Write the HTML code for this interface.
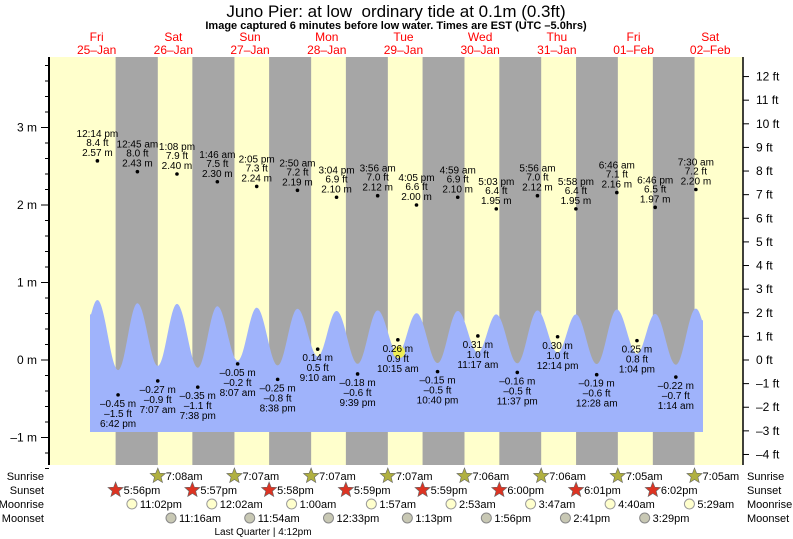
<!DOCTYPE html><html><head><meta charset="utf-8"><style>
body{margin:0;background:#fff}svg{display:block;font-family:"Liberation Sans",sans-serif}
</style></head><body>
<svg id="s" width="793" height="539" xmlns="http://www.w3.org/2000/svg"></svg>
<script>
const S=document.getElementById('s');let h='';
const X0=135,DW=76.7,L=49,R=743,T=57,B=465;
const X=d=>X0+DW*d;const Ym=m=>360-77.5*m;
const tm=(s)=>{let[a,p]=s.split(/(am|pm)/);let[hh,mm]=a.split(':').map(Number);if(hh==12)hh=0;if(p=='pm')hh+=12;return (hh+mm/60)/24;};
h+=`<rect x="${L}" y="${T}" width="${R-L}" height="${B-T}" fill="#ffffcc"/>`;
const ss=['5:56pm','5:57pm','5:58pm','5:59pm','5:59pm','6:00pm','6:01pm','6:02pm'];
const sr=['7:08am','7:07am','7:07am','7:07am','7:06am','7:06am','7:05am','7:05am'];
for(let k=0;k<8;k++){let a=X(k-1+tm(ss[k])),b=X(k+tm(sr[k]));h+=`<rect x="${a}" y="${T}" width="${b-a}" height="${B-T}" fill="#a6a6a6"/>`;}
const E=[['12:14pm',2.57,-1,'8.4'],['6:42pm',-0.45,-1,'-1.5'],['12:45am',2.43,0,'8.0'],['7:07am',-0.27,0,'-0.9'],['1:08pm',2.40,0,'7.9'],['7:38pm',-0.35,0,'-1.1'],['1:46am',2.30,1,'7.5'],['8:07am',-0.05,1,'-0.2'],['2:05pm',2.24,1,'7.3'],['8:38pm',-0.25,1,'-0.8'],['2:50am',2.19,2,'7.2'],['9:10am',0.14,2,'0.5'],['3:04pm',2.10,2,'6.9'],['9:39pm',-0.18,2,'-0.6'],['3:56am',2.12,3,'7.0'],['10:15am',0.26,3,'0.9'],['4:05pm',2.00,3,'6.6'],['10:40pm',-0.15,3,'-0.5'],['4:59am',2.10,4,'6.9'],['11:17am',0.31,4,'1.0'],['5:03pm',1.95,4,'6.4'],['11:37pm',-0.16,4,'-0.5'],['5:56am',2.12,5,'7.0'],['12:14pm',0.30,5,'1.0'],['5:58pm',1.95,5,'6.4'],['12:28am',-0.19,6,'-0.6'],['6:46am',2.16,6,'7.1'],['1:04pm',0.25,6,'0.8'],['6:46pm',1.97,6,'6.5'],['1:14am',-0.22,7,'-0.7'],['7:30am',2.20,7,'7.2']];
const P=E.map(e=>[e[2]+tm(e[0]),e[1]]);
const Yc=v=>300+(2.57-v)*23.2;
let pts=[];const x1=90,x2=703;
for(let x=x1;x<=x2;x+=1){let d=(x-X0)/DW;let i=0;while(i<P.length-2&&P[i+1][0]<d)i++;let[a,va]=P[i],[b,vb]=P[i+1];let f=Math.max(-0.3,Math.min(1.3,(d-a)/(b-a)));let v=va+(vb-va)*(1-Math.cos(Math.PI*f))/2;pts.push(x+','+Yc(v).toFixed(1));}
h+=`<polygon fill="#9fb3fb" points="${x1},432 ${x1},325 ${pts.join(' ')} ${x2},325 ${x2},432"/>`;
h+=`<circle cx="399" cy="352" r="6" fill="#eeee55"/>`;
const fmt=s=>s.replace(/(am|pm)/,' $1');
E.forEach((e,i)=>{let x=X(e[2]+tm(e[0])),y=Ym(e[1]);h+=`<circle cx="${x}" cy="${y}" r="1.8" fill="#000"/>`;
let m=e[1].toFixed(2).replace('-','\u2013')+' m',ft=e[3].replace('-','\u2013')+' ft';
let st=`font-size="10" text-anchor="middle" fill="#000"`;
if(e[1]>1){h+=`<text x="${x}" y="${y-24}" ${st}>${fmt(e[0])}</text><text x="${x}" y="${y-15}" ${st}>${ft}</text><text x="${x}" y="${y-5}" ${st}>${m}</text>`;}
else{h+=`<text x="${x}" y="${y+12}" ${st}>${m}</text><text x="${x}" y="${y+22}" ${st}>${ft}</text><text x="${x}" y="${y+32}" ${st}>${fmt(e[0])}</text>`;}});
h+=`<line x1="${L}" y1="${T}" x2="${L}" y2="${B}" stroke="#000" stroke-width="2"/><line x1="${R}" y1="${T}" x2="${R}" y2="${B}" stroke="#000" stroke-width="1.5"/>`;
for(let v=-1.4;v<=3.85;v+=0.2){let y=Ym(v);let maj=Math.abs(v-Math.round(v))<0.01;h+=`<line x1="${L-(maj?8:4)}" y1="${y}" x2="${L}" y2="${y}" stroke="#000"/>`;if(maj)h+=`<text x="${L-12}" y="${y+4}" font-size="12" text-anchor="end">${Math.round(v)<0?'\u2013'+(-Math.round(v)):Math.round(v)} m</text>`;}
for(let f=-4;f<=12;f++){let y=360-23.62*f;h+=`<line x1="${R}" y1="${y}" x2="${R+6}" y2="${y}" stroke="#000"/><text x="${R+13}" y="${y+4}" font-size="12">${f<0?'\u2013'+(-f):f} ft</text>`;}
const days=[['Fri','25\u2013Jan'],['Sat','26\u2013Jan'],['Sun','27\u2013Jan'],['Mon','28\u2013Jan'],['Tue','29\u2013Jan'],['Wed','30\u2013Jan'],['Thu','31\u2013Jan'],['Fri','01\u2013Feb'],['Sat','02\u2013Feb']];
days.forEach((d,k)=>{let x=X(k-1+0.5);h+=`<text x="${x}" y="41" font-size="12" fill="#ff0000" text-anchor="middle">${d[0]}</text><text x="${x}" y="54" font-size="12" fill="#ff0000" text-anchor="middle">${d[1]}</text>`;});
h+=`<text x="396" y="17" font-size="17" text-anchor="middle" style="white-space:pre">Juno Pier: at low  ordinary tide at 0.1m (0.3ft)</text>`;
h+=`<text x="396" y="29" font-size="11" font-weight="bold" text-anchor="middle">Image captured 6 minutes before low water. Times are EST (UTC \u20135.0hrs)</text>`;
[['Sunrise',480],['Sunset',494],['Moonrise',508],['Moonset',522]].forEach(r=>{h+=`<text x="44" y="${r[1]}" font-size="11" text-anchor="end">${r[0]}</text><text x="747" y="${r[1]}" font-size="11">${r[0]}</text>`;});
const star=(x,y,c)=>{let p=[];for(let i=0;i<10;i++){let r=i%2?3.5:8,a=-Math.PI/2+i*Math.PI/5;p.push((x+r*Math.cos(a)).toFixed(1)+','+(y+r*Math.sin(a)).toFixed(1));}return `<polygon points="${p}" fill="${c}" stroke="#666" stroke-width="0.6"/>`;};
sr.forEach((t,k)=>{let x=X(k+tm(t));h+=star(x,476,'#b0b040')+`<text x="${x+8}" y="480" font-size="11">${t}</text>`;});
ss.forEach((t,k)=>{let x=X(k-1+tm(t));h+=star(x,490,'#dd3322')+`<text x="${x+8}" y="494" font-size="11">${t}</text>`;});
const mr=[['11:02pm',-1],['12:02am',1],['1:00am',2],['1:57am',3],['2:53am',4],['3:47am',5],['4:40am',6],['5:29am',7]];
mr.forEach(m=>{let x=X(m[1]+tm(m[0]));h+=`<circle cx="${x}" cy="504" r="5" fill="#ffffcc" stroke="#999"/><text x="${x+8}" y="508" font-size="11">${m[0]}</text>`;});
const ms=[['11:16am',0],['11:54am',1],['12:33pm',2],['1:13pm',3],['1:56pm',4],['2:41pm',5],['3:29pm',6]];
ms.forEach(m=>{let x=X(m[1]+tm(m[0]));h+=`<circle cx="${x}" cy="518" r="5" fill="#c8c8b4" stroke="#888"/><text x="${x+8}" y="522" font-size="11">${m[0]}</text>`;});
h+=`<text x="263" y="535" font-size="10" text-anchor="middle">Last Quarter | 4:12pm</text>`;
S.innerHTML=h;
</script></body></html>
